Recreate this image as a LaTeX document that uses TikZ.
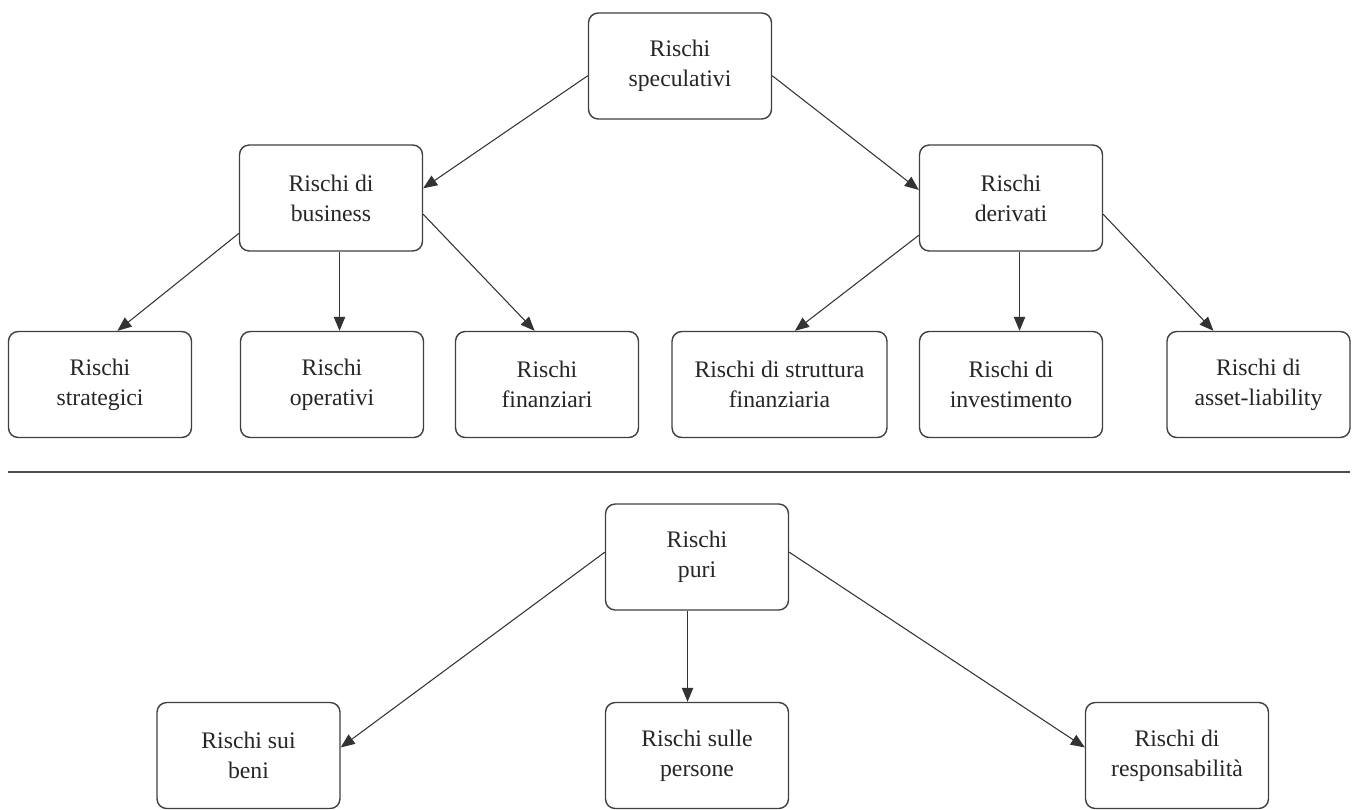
\documentclass[tikz,border=0pt]{standalone}
\usepackage{fontspec}
\setmainfont{Liberation Serif}
\usetikzlibrary{arrows.meta}
\begin{document}
\begin{tikzpicture}[x=0.02cm,y=-0.02cm,
  box/.style={draw=black!75, line width=0.8pt, rounded corners=5.5pt, fill=white,
    align=center, minimum width=3.66cm, minimum height=2.12cm,
    font=\fontsize{13.5}{17}\selectfont, text=black!85},
  arr/.style={-{Triangle[length=8pt,width=6.5pt]}, line width=0.6pt, draw=black!80}]
\useasboundingbox (0,0) rectangle (1354,809);
% speculativi
\node[box] (spec) at (680,66) {Rischi\\speculativi};
\node[box] (bus) at (331,198) {Rischi di\\business};
\node[box] (der) at (1011,198) {Rischi\\derivati};
\node[box] (strat) at (100,384.5) {Rischi\\strategici};
\node[box] (oper) at (332,384.5) {Rischi\\operativi};
\node[box] (fin) at (547,384.5) {Rischi\\finanziari};
\node[box, minimum width=4.3cm] (strut) at (779.5,384.5) {Rischi di struttura\\finanziaria};
\node[box] (inv) at (1011,384.5) {Rischi di\\investimento};
\node[box] (asset) at (1258.5,384.5) {Rischi di\\asset-liability};
\draw[arr] (spec.186) -- (bus.6);
\draw[arr] (spec.354) -- (der.175);
\draw[arr] (bus.201) -- (strat.72);
\draw[arr] (bus.-81) -- (bus.-81 |- oper.north);
\draw[arr] (bus.-10) -- (fin.103);
\draw[arr] (der.202) -- (strut.74);
\draw[arr] (der.-81) -- (der.-81 |- inv.north);
\draw[arr] (der.-10) -- (asset.130);
% separatore
\coordinate (sepL) at (8,472);
\coordinate (sepR) at (1350,472);
\draw[line width=0.9pt, black!70] (sepL) -- (sepR);
% puri
\node[box] (puri) at (697,557) {Rischi\\puri};
\node[box] (beni) at (248.5,755.5) {Rischi sui\\beni};
\node[box] (pers) at (697,755.5) {Rischi sulle\\persone};
\node[box] (resp) at (1177,755.5) {Rischi di\\responsabilità};
\draw[arr] (puri.177) -- (beni.5);
\draw[arr] (puri.260) -- (puri.260 |- pers.north);
\draw[arr] (puri.3) -- (resp.175);
\end{tikzpicture}
\end{document}
